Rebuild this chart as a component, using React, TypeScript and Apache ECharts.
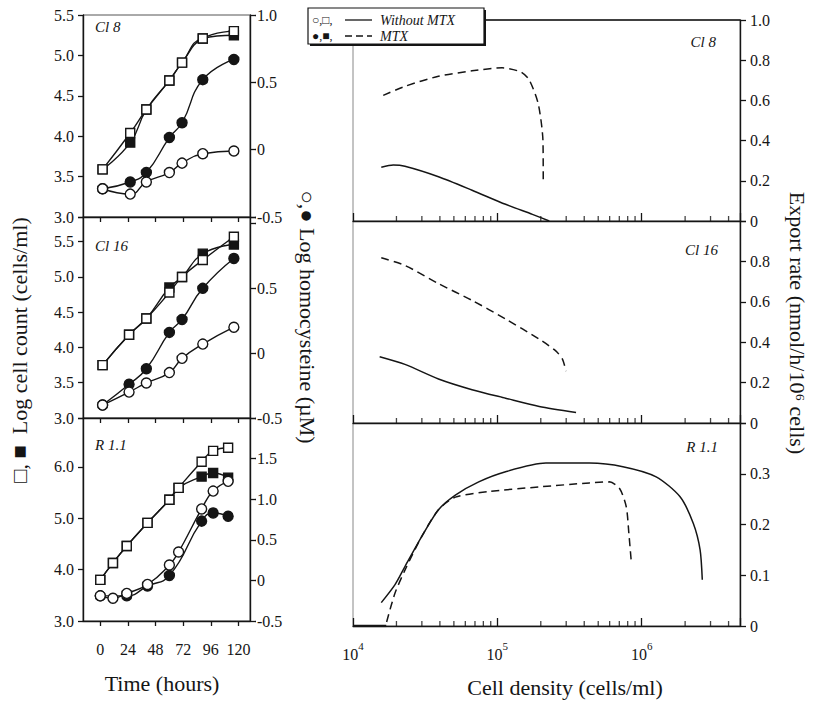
import React, { useEffect, useRef } from "react";
import * as echarts from "echarts";

const FONT = '"Liberation Serif", "DejaVu Serif", serif';
const INK = "#151515";

// ---------- Left panels: growth curves vs time ----------
const timeTicks = [0, 24, 48, 72, 96, 120];

const hoursCl8 = [2, 26, 40, 60, 71, 89, 116];
const cl8OpenSquare = [3.59, 4.04, 4.33, 4.69, 4.91, 5.21, 5.3];
const cl8FilledSquare = [3.59, 3.92, 4.33, 4.69, 4.91, 5.21, 5.25];
const cl8OpenCircle = [-0.29, -0.33, -0.24, -0.17, -0.1, -0.03, -0.01];
const cl8FilledCircle = [-0.29, -0.24, -0.17, 0.09, 0.2, 0.52, 0.67];

const hoursCl16 = [2, 25, 40, 60, 71, 89, 116];
const cl16OpenSquare = [3.75, 4.18, 4.41, 4.78, 5.0, 5.24, 5.57];
const cl16FilledSquare = [3.75, 4.18, 4.41, 4.85, 5.0, 5.33, 5.46];
const cl16OpenCircle = [-0.4, -0.3, -0.23, -0.15, -0.04, 0.07, 0.2];
const cl16FilledCircle = [-0.4, -0.24, -0.12, 0.16, 0.26, 0.5, 0.73];

const hoursR11 = [0, 11, 23, 41, 60, 68, 88, 98, 111];
const r11OpenSquare = [3.8, 4.13, 4.46, 4.91, 5.36, 5.59, 6.1, 6.31, 6.37];
const r11FilledSquare = [3.8, 4.13, 4.46, 4.91, 5.36, 5.59, 5.81, 5.88, 5.79];
const r11OpenCircle = [-0.19, -0.22, -0.16, -0.05, 0.19, 0.35, 0.88, 1.1, 1.22];
const hoursR11Filled = [0, 23, 41, 60, 88, 98, 111];
const r11FilledCircle = [-0.19, -0.19, -0.07, 0.06, 0.73, 0.83, 0.79];

const cellTicksA = [3, 3.5, 4, 4.5, 5, 5.5];
const cellTicksB = [3, 4, 5, 6];
const hcyTicksTop = [-0.5, 0, 0.5, 1.0];
const hcyTicksMid = [-0.5, 0, 0.5];
const hcyTicksBot = [-0.5, 0, 0.5, 1.0, 1.5];

// ---------- Right panels: export rate vs cell density ----------
const densityMin = 10000;
const densityMax = 4800000;
const densityMajor = [1e4, 1e5, 1e6];
const densityMinor = [2e4, 3e4, 4e4, 5e4, 6e4, 7e4, 8e4, 9e4, 2e5, 3e5, 4e5, 5e5, 6e5, 7e5, 8e5, 9e5, 2e6, 3e6, 4e6];
const rateTicksTop = [0, 0.2, 0.4, 0.6, 0.8, 1.0];
const rateTicksMid = [0, 0.2, 0.4, 0.6, 0.8];
const rateTicksBot = [0, 0.1, 0.2, 0.3];

const cl8NoMtxDensity = [15700, 19000, 22900, 39100, 66800, 114000, 175000, 229000];
const cl8NoMtxRate = [0.267, 0.278, 0.272, 0.22, 0.153, 0.083, 0.033, 0];
const cl8MtxDensity = [16200, 22900, 39100, 66800, 108000, 145000, 166000, 192000, 207000, 208000];
const cl8MtxRate = [0.625, 0.67, 0.72, 0.747, 0.762, 0.742, 0.703, 0.583, 0.4, 0.208];

const cl16NoMtxDensity = [15300, 22900, 39100, 66800, 114000, 195000, 351000];
const cl16NoMtxRate = [0.328, 0.29, 0.218, 0.165, 0.123, 0.082, 0.052];
const cl16MtxDensity = [15700, 22900, 39100, 66800, 114000, 195000, 254000, 283000, 299000];
const cl16MtxRate = [0.818, 0.78, 0.69, 0.607, 0.515, 0.415, 0.357, 0.315, 0.257];

const r11NoMtxDensity = [15700, 19500, 22900, 29900, 39100, 51200, 74300, 114000, 217000, 435000, 741000, 1260000, 1840000, 2280000, 2540000, 2630000];
const r11NoMtxRate = [0.046, 0.081, 0.117, 0.176, 0.229, 0.258, 0.284, 0.304, 0.321, 0.321, 0.314, 0.294, 0.255, 0.202, 0.15, 0.091];
const r11MtxDensity = [17100, 19500, 22900, 29900, 39100, 51200, 87300, 195000, 435000, 598000, 703000, 782000, 815000, 847000];
const r11MtxRate = [0.008, 0.064, 0.11, 0.176, 0.229, 0.254, 0.265, 0.274, 0.282, 0.284, 0.271, 0.235, 0.183, 0.127];
const r11BaseDensity = [10000, 17000];
const r11BaseRate = [0, 0];

const pairs = (xs: number[], ys: number[]) => xs.map((x, i) => [x, ys[i]]);
const fmt1 = (v: number) => (Math.abs(v) < 1e-9 ? "0" : v.toFixed(1));

const timeMin = -15;
const timeMax = 130;
const leftBoxes = [
  { left: 83, top: 15, width: 167, height: 202 },
  { left: 83, top: 217, width: 167, height: 201 },
  { left: 83, top: 418, width: 167, height: 203 },
];
const rightBoxes = [
  { left: 353, top: 20, width: 387, height: 201 },
  { left: 353, top: 221, width: 387, height: 202 },
  { left: 353, top: 423, width: 387, height: 203 },
];

function buildOption() {
  const grid: any[] = [];
  const xAxis: any[] = [];
  const yAxis: any[] = [];
  const series: any[] = [];
  const axisLineStyle = { color: INK, width: 1.4 };
  const tickLine = { color: INK, width: 1.3 };
  const labelBase = { color: INK, fontFamily: FONT, fontSize: 16 };

  // left grids 0..2
  const cellRanges = [[3, 5.5], [3, 5.85], [3, 6.95]];
  const cellInterval = [0.5, 0.5, 1];
  const hcyRanges = [[-0.5, 1.0], [-0.5, 1.05], [-0.5, 2.0]];
  const cellTicks = [cellTicksA, cellTicksA, cellTicksB];
  const hcyTicks = [hcyTicksTop, hcyTicksMid, hcyTicksBot];
  leftBoxes.forEach((b, i) => {
    grid.push({ ...b, show: true, borderColor: "#555", borderWidth: 1, backgroundColor: "transparent" });
    xAxis.push({
      type: "value", gridIndex: i, min: timeMin, max: timeMax, position: "bottom",
      axisLine: { show: true, onZero: false, lineStyle: axisLineStyle },
      axisTick: { show: false },
      axisLabel: { show: i === 2, customValues: timeTicks, margin: 20, ...labelBase },
      splitLine: { show: false },
    });
    yAxis.push({
      type: "value", gridIndex: i, position: "left", min: cellRanges[i][0], max: cellRanges[i][1], interval: cellInterval[i],
      axisLine: { show: true, onZero: false, lineStyle: axisLineStyle },
      axisTick: { show: true, inside: false, length: 5, lineStyle: tickLine },
      axisLabel: { customValues: cellTicks[i], formatter: fmt1, margin: 9, ...labelBase },
      splitLine: { show: false },
    });
    yAxis.push({
      type: "value", gridIndex: i, position: "right", min: hcyRanges[i][0], max: hcyRanges[i][1], interval: 0.5,
      axisLine: { show: true, onZero: false, lineStyle: axisLineStyle },
      axisTick: { show: true, inside: false, length: 6, lineStyle: tickLine },
      axisLabel: { customValues: hcyTicks[i], formatter: fmt1, margin: 7, ...labelBase },
      splitLine: { show: false },
    });
  });

  // right grids 3..5 (data, log axis)
  const rateRanges = [[0, 1], [0, 1], [0, 0.4]];
  const rateInterval = [0.2, 0.2, 0.1];
  const rateTicks = [rateTicksTop, rateTicksMid, rateTicksBot];
  rightBoxes.forEach((b, i) => {
    const g = 3 + i;
    grid.push({ ...b, show: true, borderColor: "#888", borderWidth: 1, backgroundColor: "transparent" });
    xAxis.push({
      type: "log", gridIndex: g, min: densityMin, max: densityMax, position: "bottom",
      axisLine: { show: true, onZero: false, lineStyle: axisLineStyle },
      axisTick: { show: true, inside: true, length: 8, lineStyle: tickLine },
      axisLabel: {
        show: i === 2, customValues: densityMajor, margin: 14,
        formatter: (v: number) => `{b|10}{s|${Math.round(Math.log10(v))}}`,
        rich: {
          b: { fontFamily: FONT, fontSize: 16, color: INK, lineHeight: 22, verticalAlign: "bottom" },
          s: { fontFamily: FONT, fontSize: 11, color: INK, lineHeight: 22, verticalAlign: "top" },
        },
      },
      splitLine: { show: false },
    });
    yAxis.push({
      type: "value", gridIndex: g, position: "right", min: rateRanges[i][0], max: rateRanges[i][1], interval: rateInterval[i],
      axisLine: { show: true, onZero: false, lineStyle: axisLineStyle },
      axisTick: { show: true, inside: false, length: 6, lineStyle: tickLine },
      axisLabel: { customValues: rateTicks[i], formatter: fmt1, margin: 10, ...labelBase },
      splitLine: { show: false },
    });
  });

  // overlay grids 6..8: time ticks 0..120 every 24 on the left panels
  const pxPerHour = 167 / (timeMax - timeMin);
  leftBoxes.forEach((b) => {
    const g = grid.length;
    grid.push({
      top: b.top, height: b.height,
      left: b.left + (timeTicks[0] - timeMin) * pxPerHour,
      width: (timeTicks[timeTicks.length - 1] - timeTicks[0]) * pxPerHour,
      show: false,
    });
    xAxis.push({
      type: "value", gridIndex: g, min: timeTicks[0], max: timeTicks[timeTicks.length - 1], interval: 24,
      position: "bottom",
      axisLine: { show: false, onZero: false },
      axisTick: { show: true, inside: false, length: 5, lineStyle: tickLine },
      axisLabel: { show: false },
      splitLine: { show: false },
    });
    yAxis.push({ type: "value", gridIndex: g, min: 0, max: 1, show: false });
  });

  // left series
  const sym = (symbol: string, filled: boolean) => ({
    symbol,
    symbolSize: symbol === "rect" ? 9 : 10,
    itemStyle: { color: filled ? INK : "#fff", borderColor: INK, borderWidth: 1.4 },
    lineStyle: { color: INK, width: 1.4 },
  });
  const leftSeries = (panel: number, name: string, xs: number[], ys: number[], onRight: boolean, symbol: string, filled: boolean) => {
    series.push({
      type: "line", name, xAxisIndex: panel, yAxisIndex: panel * 2 + (onRight ? 1 : 0),
      data: pairs(xs, ys), smooth: 0.5, showSymbol: true, z: filled ? 3 : 4,
      ...sym(symbol, filled),
    });
  };
  leftSeries(0, "Cl8 MTX cells", hoursCl8, cl8FilledSquare, false, "rect", true);
  leftSeries(0, "Cl8 cells", hoursCl8, cl8OpenSquare, false, "rect", false);
  leftSeries(0, "Cl8 MTX hcy", hoursCl8, cl8FilledCircle, true, "circle", true);
  leftSeries(0, "Cl8 hcy", hoursCl8, cl8OpenCircle, true, "circle", false);
  leftSeries(1, "Cl16 MTX cells", hoursCl16, cl16FilledSquare, false, "rect", true);
  leftSeries(1, "Cl16 cells", hoursCl16, cl16OpenSquare, false, "rect", false);
  leftSeries(1, "Cl16 MTX hcy", hoursCl16, cl16FilledCircle, true, "circle", true);
  leftSeries(1, "Cl16 hcy", hoursCl16, cl16OpenCircle, true, "circle", false);
  leftSeries(2, "R1.1 MTX cells", hoursR11, r11FilledSquare, false, "rect", true);
  leftSeries(2, "R1.1 cells", hoursR11, r11OpenSquare, false, "rect", false);
  leftSeries(2, "R1.1 MTX hcy", hoursR11Filled, r11FilledCircle, true, "circle", true);
  leftSeries(2, "R1.1 hcy", hoursR11, r11OpenCircle, true, "circle", false);

  // right series
  const rightSeries = (panel: number, name: string, xs: number[], ys: number[], dashed: boolean, width = 1.5) => {
    series.push({
      type: "line", name, xAxisIndex: 3 + panel, yAxisIndex: 6 + panel,
      data: pairs(xs, ys), smooth: 0.25, showSymbol: false, symbol: "none",
      lineStyle: { color: INK, width, type: dashed ? [8, 5] : "solid" },
    });
  };
  rightSeries(0, "Cl8 without MTX", cl8NoMtxDensity, cl8NoMtxRate, false);
  rightSeries(0, "Cl8 MTX", cl8MtxDensity, cl8MtxRate, true);
  rightSeries(1, "Cl16 without MTX", cl16NoMtxDensity, cl16NoMtxRate, false);
  rightSeries(1, "Cl16 MTX", cl16MtxDensity, cl16MtxRate, true);
  rightSeries(2, "R1.1 without MTX", r11NoMtxDensity, r11NoMtxRate, false);
  rightSeries(2, "R1.1 MTX", r11MtxDensity, r11MtxRate, true);
  rightSeries(2, "R1.1 baseline", r11BaseDensity, r11BaseRate, false, 2.5);

  // minor log ticks on the density axes (placed through the log scale)
  [0, 1, 2].forEach((p) => {
    series.push({
      type: "scatter", name: `minor ticks ${p}`, xAxisIndex: 3 + p, yAxisIndex: 6 + p,
      data: densityMinor.map((d) => [d, 0]), symbol: "rect", symbolSize: [1.3, 5], symbolOffset: [0, -2.5],
      itemStyle: { color: INK }, silent: true, clip: false, z: 6,
    });
  });

  const txt = (text: string, x: number, y: number, size: number, extra: any = {}) => ({
    type: "text", x, y, z: 10, rotation: extra.rotation || 0,
    style: { text, fill: INK, font: `${extra.italic ? "italic " : ""}${size}px ${FONT}`, align: extra.align || "center", verticalAlign: "middle" },
  });

  const graphic: any[] = [
    // axis titles
    txt("□, ■  Log cell count (cells/ml)", 19, 350, 22, { rotation: Math.PI / 2 }),
    txt("○,● Log homocysteine (µM)", 307, 317, 22, { rotation: -Math.PI / 2 }),
    txt("Export rate (nmol/h/10⁶ cells)", 797, 323, 22, { rotation: -Math.PI / 2 }),
    txt("Time (hours)", 162, 683, 22),
    txt("Cell density (cells/ml)", 565, 687, 22),
    // panel labels
    txt("Cl 8", 95, 27, 15, { italic: true, align: "left" }),
    txt("Cl 16", 95, 246, 15, { italic: true, align: "left" }),
    txt("R 1.1", 95, 445, 15, { italic: true, align: "left" }),
    txt("Cl 8", 716, 42, 15, { italic: true, align: "right" }),
    txt("Cl 16", 718, 250, 15, { italic: true, align: "right" }),
    txt("R 1.1", 718, 447, 15, { italic: true, align: "right" }),
    // top frame line of the right block (dark)
    { type: "line", z: 5, shape: { x1: 353, y1: 20, x2: 740, y2: 20 }, style: { stroke: INK, lineWidth: 1.4 } },
    // legend box
    { type: "rect", z: 20, shape: { x: 310, y: 10, width: 176, height: 36 }, style: { fill: INK } },
    { type: "rect", z: 21, shape: { x: 308, y: 8, width: 176, height: 36 }, style: { fill: "#fff", stroke: INK, lineWidth: 1.2 } },
    { type: "text", z: 22, x: 312, y: 20, style: { text: "○,□,", fill: INK, font: `12px ${FONT}`, verticalAlign: "middle" } },
    { type: "line", z: 22, shape: { x1: 345, y1: 20, x2: 372, y2: 20 }, style: { stroke: INK, lineWidth: 1.3 } },
    { type: "text", z: 22, x: 380, y: 20, style: { text: "Without MTX", fill: INK, font: `italic 14px ${FONT}`, verticalAlign: "middle" } },
    { type: "text", z: 22, x: 312, y: 36, style: { text: "●,■,", fill: INK, font: `12px ${FONT}`, verticalAlign: "middle" } },
    { type: "line", z: 22, shape: { x1: 345, y1: 36, x2: 372, y2: 36 }, style: { stroke: INK, lineWidth: 1.3, lineDash: [7, 4] } },
    { type: "text", z: 22, x: 380, y: 36, style: { text: "MTX", fill: INK, font: `italic 14px ${FONT}`, verticalAlign: "middle" } },
  ];

  return {
    animation: false,
    backgroundColor: "#fff",
    textStyle: { fontFamily: FONT },
    grid, xAxis, yAxis, series, graphic,
  };
}

export default function App() {
  const ref = useRef<HTMLDivElement>(null);
  useEffect(() => {
    if (!ref.current) return;
    const chart = echarts.init(ref.current, undefined, { renderer: "svg" });
    chart.setOption(buildOption() as any);
    return () => chart.dispose();
  }, []);
  return (
    <div
      ref={ref}
      style={{ position: "fixed", left: 0, top: 0, width: 815, height: 702, background: "#fff" }}
    />
  );
}
